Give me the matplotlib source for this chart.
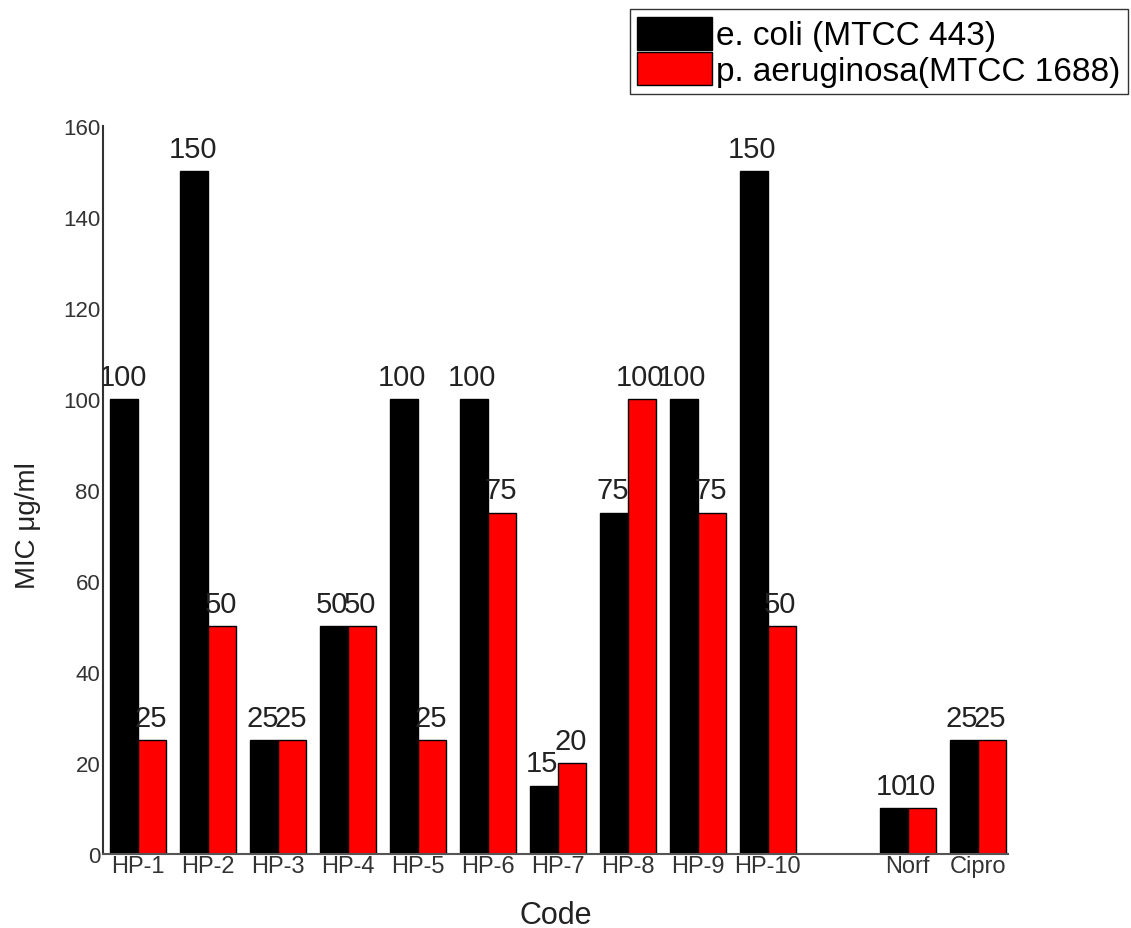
import numpy as np
import matplotlib.pyplot as plt

plt.rcParams['font.family'] = ['Liberation Sans', 'DejaVu Sans']

# data
codes = ['HP-1', 'HP-2', 'HP-3', 'HP-4', 'HP-5', 'HP-6', 'HP-7', 'HP-8', 'HP-9', 'HP-10', 'Norf', 'Cipro']
ecoli = [100, 150, 25, 50, 100, 100, 15, 75, 100, 150, 10, 25]
paeru = [25, 50, 25, 50, 25, 75, 20, 100, 75, 50, 10, 25]
# one empty slot between HP-10 and the standards
pos = np.array([0, 1, 2, 3, 4, 5, 6, 7, 8, 9, 11, 12])

fig = plt.figure(figsize=(11.31, 9.29), dpi=100)
ax = fig.add_axes([0.091, 0.0797, 0.80, 0.7836])

w = 0.4
b1 = ax.bar(pos - w/2, ecoli, w, color='black', edgecolor='black', linewidth=1,
            label='e. coli (MTCC 443)')
b2 = ax.bar(pos + w/2, paeru, w, color='red', edgecolor='black', linewidth=1,
            label='p. aeruginosa(MTCC 1688)')

for bars, vals in [(b1, ecoli), (b2, paeru)]:
    for r, v in zip(bars, vals):
        t = ax.annotate(str(v), (r.get_x() + r.get_width()/2, v), xytext=(-1, 6),
                        textcoords='offset points', ha='center', va='bottom',
                        fontsize=21, color='#222222', annotation_clip=False)
        # labels are cut off at the left spine like in the original
        t.set_clip_path(ax.patch)
        t.set_clip_on(True)

ax.set_xlim(-0.5, 12.43)
ax.set_ylim(0, 160)
ax.set_yticks(np.arange(0, 161, 20))
ax.set_xticks(pos)
ax.set_xticklabels(codes)
ax.tick_params(axis='both', length=0, labelsize=16, colors='#333333', pad=2)
ax.tick_params(axis='x', labelsize=17, pad=1)
for s in ['top', 'right']:
    ax.spines[s].set_visible(False)
ax.spines['left'].set_color('#333333')
ax.spines['bottom'].set_color('#555555')
ax.spines['left'].set_linewidth(1.5)
ax.spines['bottom'].set_linewidth(1.5)

ax.set_xlabel('Code', fontsize=22, color='#222222', labelpad=16)
ax.set_ylabel('MIC μg/ml', fontsize=20, color='#222222')
ax.yaxis.set_label_coords(-0.068, 0.453)

fig.legend(loc='upper right', bbox_to_anchor=(0.997, 0.989), fontsize=24,
           handlelength=2.25, handleheight=1.15, handletextpad=0.12,
           labelspacing=0.02, borderpad=0.22, borderaxespad=0,
           fancybox=False, edgecolor='#333333', framealpha=1)

fig.savefig('out.png', dpi=100)
